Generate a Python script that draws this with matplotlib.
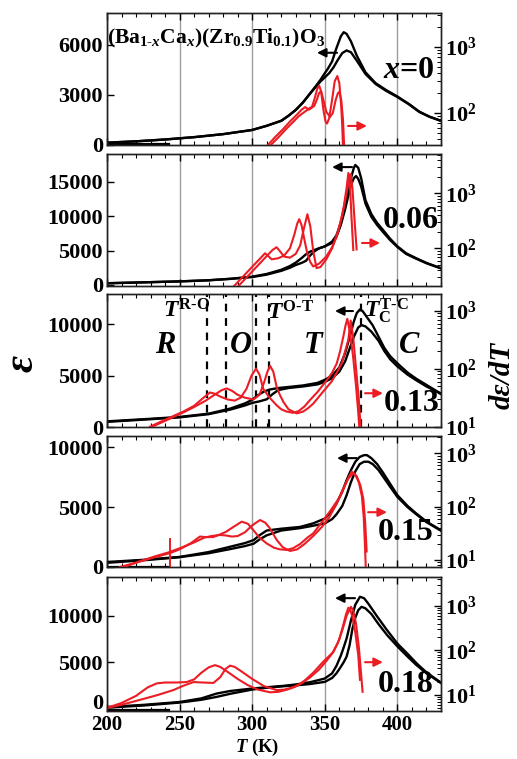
import matplotlib
matplotlib.use('Agg')
import matplotlib.pyplot as plt
import numpy as np
from matplotlib.ticker import MultipleLocator, LogLocator, FuncFormatter, NullFormatter, FixedLocator

plt.rcParams['font.family'] = ['Liberation Serif', 'DejaVu Serif']
plt.rcParams['font.weight'] = 'bold'
plt.rcParams['mathtext.fontset'] = 'custom'
plt.rcParams['mathtext.rm'] = 'Liberation Serif:bold'
plt.rcParams['mathtext.it'] = 'Liberation Serif:bold:italic'
plt.rcParams['mathtext.bf'] = 'Liberation Serif:bold'

# ---------------- data (T in K, eps, log10(d eps/dT)) ----------------
# panel 1 : x = 0
p1_T_b1 = [200, 220, 240, 260, 280, 300, 310, 320, 325, 330, 335, 340, 344, 347, 350, 352, 355, 358, 361, 363, 365, 368, 372, 378, 385, 392, 400, 408, 415, 422, 430]
p1_e_b1 = [140, 220, 330, 470, 650, 900, 1150, 1450, 1750, 2100, 2550, 3100, 3550, 3900, 4300, 4550, 5000, 5800, 6500, 6750, 6650, 6200, 5350, 4350, 3700, 3300, 2900, 2450, 2000, 1700, 1450]
p1_T_b2 = [200, 220, 240, 260, 280, 300, 310, 320, 325, 330, 335, 340, 344, 347, 350, 353, 356, 359, 362, 365, 368, 372, 378, 385, 392, 400, 408, 415, 422, 430]
p1_e_b2 = [140, 220, 330, 470, 650, 900, 1150, 1450, 1750, 2100, 2550, 3100, 3500, 3800, 4050, 4300, 4650, 5100, 5500, 5660, 5550, 5050, 4250, 3650, 3250, 2870, 2430, 1980, 1690, 1440]
p1_T_r1 = [308, 311, 316, 321, 326, 331, 334, 336.5, 339, 341, 343, 344.8, 346.2, 347.5, 349, 350.5, 351.5, 353, 355, 356.8, 358.6, 360, 361.3, 362, 362.4, 362.6]
p1_g_r1 = [1.45, 1.52, 1.64, 1.75, 1.87, 1.98, 2.05, 2.09, 2.05, 2.08, 2.22, 2.37, 2.41, 2.32, 2.05, 1.87, 1.84, 1.92, 2.2, 2.48, 2.56, 2.45, 2.1, 1.8, 1.55, 1.4]
p1_T_r2 = [310, 313, 318, 323, 328, 332, 335, 337.5, 340, 342.5, 344.5, 346, 347.4, 349, 351, 353.6, 355.5, 357.5, 359, 360, 361.3, 362.5, 363.2, 363.4]
p1_g_r2 = [1.45, 1.52, 1.63, 1.75, 1.86, 1.95, 2.0, 2.04, 2.08, 2.1, 2.2, 2.3, 2.33, 2.2, 2.02, 1.94, 2.0, 2.2, 2.3, 2.32, 2.2, 1.9, 1.55, 1.4]
p1_T_base = [200, 243]
p1_e_base = [60, 60]

# panel 2 : x = 0.06
p2_T_b1 = [200, 225, 250, 270, 285, 300, 310, 320, 326, 330, 334, 337, 340, 345, 350, 355, 358, 361, 364, 366, 368, 370, 371, 373, 375, 378, 382, 386, 390, 395, 400, 406, 413, 420, 430]
p2_e_b1 = [250, 380, 520, 680, 900, 1200, 1600, 2200, 2750, 3250, 3900, 4450, 4850, 5250, 5600, 6300, 7200, 9000, 11500, 13500, 15500, 17000, 17400, 17000, 15500, 12300, 10300, 9000, 8000, 6700, 5600, 4600, 3870, 3200, 2420]
p2_T_b2 = [200, 225, 250, 270, 285, 300, 310, 320, 326, 330, 334, 337, 340, 343, 346, 350, 355, 358, 361, 364, 366, 368, 370, 371.5, 373, 375, 378, 382, 386, 390, 395, 400, 406, 413, 420, 430]
p2_e_b2 = [250, 380, 520, 680, 880, 1150, 1500, 2050, 2500, 2900, 3200, 3500, 4300, 4900, 5300, 5600, 6100, 7000, 8700, 11000, 12800, 14500, 15500, 15800, 15400, 14300, 11800, 9900, 8700, 7700, 6500, 5500, 4500, 3800, 3150, 2400]
p2_T_r1 = [285, 287, 292, 297, 302, 306, 308.8, 311, 313.4, 318, 322, 326, 329, 331, 332.4, 334, 336, 338, 340, 342, 346, 351, 355, 358, 361, 363, 365, 366.2, 367.2, 368.3, 369.6]
p2_g_r1 = [1.25, 1.3, 1.44, 1.58, 1.72, 1.83, 1.91, 1.86, 1.8, 1.82, 1.87, 2.0, 2.25, 2.45, 2.53, 2.42, 2.15, 1.9, 1.75, 1.67, 1.72, 1.85, 2.02, 2.2, 2.5, 2.75, 3.1, 3.37, 3.2, 2.6, 1.97]
p2_T_r2 = [288, 290, 295, 300, 305, 310, 314, 316.8, 319, 322, 326, 330, 333, 335.5, 338, 340, 342, 344.3, 347, 351, 355, 359, 362, 365, 367, 367.8, 369, 370.5, 371.9]
p2_g_r2 = [1.25, 1.3, 1.44, 1.58, 1.72, 1.86, 1.97, 2.02, 1.95, 1.85, 1.83, 1.9, 2.05, 2.35, 2.62, 2.4, 1.95, 1.64, 1.66, 1.8, 2.0, 2.3, 2.6, 3.0, 3.3, 3.35, 3.1, 2.5, 1.98]

# panel 3 : x = 0.13
p3_T_b1 = [200, 230, 250, 270, 285, 295, 300, 304, 308, 312, 318, 325, 335, 345, 350, 355, 360, 364, 367, 370, 372, 374.2, 376, 379, 383, 387, 391, 395, 400, 407, 413, 420, 427, 430]
p3_e_b1 = [550, 800, 980, 1300, 1800, 2300, 2650, 3100, 3450, 3650, 3800, 3900, 4050, 4300, 4600, 5000, 5800, 7200, 8700, 10300, 11100, 11460, 11300, 10700, 9900, 8800, 7700, 6900, 6200, 5300, 4700, 4100, 3500, 3260]
p3_T_b2 = [200, 230, 250, 270, 285, 295, 300, 305, 310, 314, 318, 325, 335, 345, 350, 355, 360, 364, 367, 370, 373, 375.3, 378, 382, 387, 391, 395, 400, 407, 413, 420, 427, 430]
p3_e_b2 = [500, 760, 940, 1250, 1700, 2100, 2350, 2500, 2700, 3200, 3600, 3800, 3950, 4150, 4400, 4750, 5400, 6400, 7600, 8800, 9700, 9930, 9800, 9300, 8400, 7400, 6600, 5900, 5100, 4550, 3950, 3450, 3200]
p3_T_r1 = [229.6, 240, 252.5, 260, 266, 270.9, 274, 278, 283, 288, 292, 296, 299.5, 302.6, 305, 307.6, 312, 316.8, 320, 323.8, 328.2, 332, 336, 339.8, 345, 351.3, 355, 358.2, 360.5, 362.7, 364.3, 365.5, 367.5, 369.5, 371.5, 373, 373.8]
p3_g_r1 = [1.0, 1.12, 1.26, 1.36, 1.49, 1.59, 1.57, 1.52, 1.47, 1.45, 1.5, 1.65, 1.88, 2.0, 1.9, 1.65, 1.5, 1.37, 1.3, 1.26, 1.24, 1.27, 1.35, 1.46, 1.6, 1.8, 1.93, 2.09, 2.3, 2.55, 2.75, 2.86, 2.6, 2.2, 1.7, 1.25, 0.98]
p3_T_r2 = [231, 240, 252, 260, 268, 274, 279, 282.4, 286, 290, 295, 300.8, 305, 308, 310.5, 312.3, 314.5, 316.8, 319, 321.4, 325, 330.6, 335, 338.5, 342.1, 348, 354.7, 358, 361.6, 364, 366.2, 367.8, 369.5, 371.5, 373.3, 374.7]
p3_g_r2 = [1.0, 1.1, 1.24, 1.34, 1.45, 1.55, 1.63, 1.66, 1.62, 1.55, 1.5, 1.47, 1.55, 1.75, 1.95, 2.05, 1.95, 1.69, 1.55, 1.43, 1.3, 1.23, 1.26, 1.32, 1.4, 1.58, 1.78, 1.92, 2.09, 2.3, 2.5, 2.83, 2.55, 2.0, 1.5, 0.98]
p3_T_phase = [268.6, 281.9, 302.5, 311.8, 374.7]

# panel 4 : x = 0.15
p4_T_b1 = [200, 225, 250, 270, 285, 295, 301, 305, 310, 320, 333, 342, 350, 355, 358, 362, 365, 368, 371, 374, 377, 379, 382, 386, 390, 395, 400, 407, 413, 420, 430]
p4_e_b1 = [420, 600, 840, 1250, 1700, 2000, 2250, 2650, 3050, 3200, 3350, 3650, 4050, 4700, 5300, 6300, 7260, 8100, 8800, 9200, 9350, 9350, 9100, 8600, 7900, 6950, 6000, 5100, 4470, 3800, 3070]
p4_T_b2 = [200, 225, 250, 270, 285, 295, 301, 305, 310, 320, 333, 342, 350, 355, 358, 362, 365, 368, 371, 374, 377, 380, 383, 387, 391, 395, 400, 407, 413, 420, 430]
p4_e_b2 = [350, 560, 820, 1150, 1500, 1750, 1950, 2300, 2650, 3050, 3250, 3450, 3650, 4000, 4400, 5100, 6000, 7100, 8000, 8600, 8800, 8800, 8600, 8100, 7400, 6700, 5850, 5000, 4400, 3750, 3030]
p4_T_r1 = [209, 220, 230, 243.4, 250, 258, 264, 268, 273, 277, 282, 287, 292.8, 297, 300.8, 305, 310, 315, 319, 323.8, 328, 333, 338, 342, 350, 355, 360.5, 366, 368.5, 371, 373.5, 375.5, 376.8, 377.6, 378.2]
p4_g_r1 = [0.87, 0.95, 1.03, 1.13, 1.2, 1.32, 1.44, 1.43, 1.43, 1.47, 1.53, 1.62, 1.72, 1.68, 1.56, 1.42, 1.31, 1.23, 1.2, 1.19, 1.22, 1.3, 1.42, 1.5, 1.78, 1.97, 2.19, 2.53, 2.66, 2.6, 2.45, 2.2, 1.8, 1.3, 0.85]
p4_T_r2 = [212, 222, 232, 242, 252, 260, 267, 272, 277.8, 282, 286, 290, 295, 300, 305.4, 309, 312, 316.8, 321, 326, 331, 336, 342, 348, 353, 358, 362, 366, 369.6, 372, 374.5, 376.5, 377.8, 378.8]
p4_g_r2 = [0.87, 0.97, 1.06, 1.14, 1.24, 1.33, 1.42, 1.45, 1.47, 1.46, 1.44, 1.45, 1.52, 1.65, 1.75, 1.7, 1.6, 1.38, 1.24, 1.17, 1.2, 1.3, 1.45, 1.62, 1.8, 2.05, 2.3, 2.52, 2.63, 2.57, 2.4, 2.15, 1.7, 1.16]
p4_T_base = [200, 243.4]
p4_e_base = [0, 0]
p4_T_spike = [243.4, 243.4]
p4_g_spike = [0.87, 1.39]

# panel 5 : x = 0.18
p5_T_b1 = [200, 225, 250, 265, 275.5, 285, 300, 310, 321, 330, 340, 350, 355, 358, 361, 363, 365, 368, 371, 374.2, 377, 380, 385.7, 392.6, 400, 407, 413.3, 420, 430]
p5_e_b1 = [170, 400, 710, 1100, 1620, 1900, 2160, 2300, 2440, 2600, 2850, 3240, 3800, 4600, 5700, 6600, 7560, 9500, 11200, 12050, 11900, 11300, 10000, 8500, 7000, 5900, 4860, 3900, 2800]
p5_T_b2 = [200, 225, 250, 265, 275.5, 285, 300, 310, 321, 330, 340, 350, 355, 358, 361, 363, 365, 367, 369, 371, 373, 375.3, 378, 382, 387, 393, 400, 407, 413, 420, 430]
p5_e_b2 = [100, 330, 650, 950, 1260, 1600, 2050, 2250, 2400, 2500, 2650, 2880, 3300, 3800, 4500, 5000, 5600, 6800, 8600, 9800, 10600, 10970, 10800, 10200, 9100, 7900, 6700, 5600, 4700, 3800, 2750]
p5_T_r1 = [200, 210, 220, 228, 234.2, 240, 248, 254.8, 260, 265, 270, 274.4, 278, 283, 290, 297, 304, 312.3, 318, 324, 330, 336, 342, 349, 356, 360, 362.7, 364.5, 366.2, 367.5, 369, 371, 373, 374.2]
p5_g_r1 = [0.71, 0.82, 0.98, 1.17, 1.26, 1.28, 1.28, 1.29, 1.35, 1.5, 1.62, 1.67, 1.63, 1.52, 1.36, 1.22, 1.12, 1.06, 1.07, 1.12, 1.19, 1.32, 1.5, 1.75, 1.97, 2.25, 2.57, 2.8, 2.96, 2.92, 2.75, 2.4, 1.9, 1.34]
p5_T_r2 = [200, 210, 222.7, 235, 245.7, 252, 259.5, 266, 273.3, 278, 281.5, 284.7, 288, 293, 300, 308, 316.8, 322, 328, 334, 340, 346, 351, 355, 359, 362, 365, 368, 369.5, 371.5, 373.5, 376]
p5_g_r2 = [0.71, 0.78, 0.89, 1.0, 1.11, 1.2, 1.29, 1.28, 1.27, 1.4, 1.58, 1.66, 1.63, 1.52, 1.36, 1.2, 1.11, 1.12, 1.17, 1.26, 1.4, 1.57, 1.76, 1.93, 2.17, 2.45, 2.78, 2.98, 2.9, 2.6, 2.05, 1.07]
p5_T_base = [200, 243]
p5_e_base = [-100, -100]

labels = [r'$x$=0', '0.06', '0.13', '0.15', '0.18']
left_ticks = [[0, 3000, 6000], [0, 5000, 10000, 15000], [0, 5000, 10000], [0, 5000, 10000], [0, 5000, 10000]]
xticks = [200, 250, 300, 350, 400]

# ---------------- layout ----------------
W, H = 517, 759
fig = plt.figure(figsize=(W / 100, H / 100), dpi=100)

def P(x, y):
    return x / W, 1 - y / H

panel_px = [(13, 145), (154, 286), (294, 427), (436, 567), (577, 711)]
eps_lim = [(0, 7900), (-150, 19000), (0, 12960), (0, 10950), (-260, 14180)]
log_lim = [(1.515, 3.515), (1.315, 3.715), (0.995, 3.288), (0.869, 3.326), (0.64, 3.65)]
label_pos = [(409, 71), (411, 220), (412, 404), (406, 533), (406, 685)]
black_arrows = [((358.4, 5520), (344.6, 5520)), ((368.7, 17100), (355.0, 17100)),
                ((369.4, 11300), (357.0, 11300)), ((372.0, 9100), (358.4, 9100)),
                ((370.8, 11900), (357.0, 11900))]
red_arrows = [((366.0, 1140), (379.0, 1140)), ((375.6, 6090), (388.0, 6090)),
              ((377.7, 3290), (390.0, 3290)), ((379.8, 4580), (392.8, 4580)),
              ((377.7, 5000), (390.0, 5000))]

blacks = [[(p1_T_b1, p1_e_b1), (p1_T_b2, p1_e_b2)],
          [(p2_T_b1, p2_e_b1), (p2_T_b2, p2_e_b2)],
          [(p3_T_b1, p3_e_b1), (p3_T_b2, p3_e_b2)],
          [(p4_T_b1, p4_e_b1), (p4_T_b2, p4_e_b2)],
          [(p5_T_b1, p5_e_b1), (p5_T_b2, p5_e_b2)]]
reds = [[(p1_T_r1, p1_g_r1), (p1_T_r2, p1_g_r2)],
        [(p2_T_r1, p2_g_r1), (p2_T_r2, p2_g_r2)],
        [(p3_T_r1, p3_g_r1), (p3_T_r2, p3_g_r2)],
        [(p4_T_r1, p4_g_r1), (p4_T_r2, p4_g_r2)],
        [(p5_T_r1, p5_g_r1), (p5_T_r2, p5_g_r2)]]
bases = {0: (p1_T_base, p1_e_base), 3: (p4_T_base, p4_e_base), 4: (p5_T_base, p5_e_base)}

RED = '#ec1c24'
TICK_FS = 16
axes = []
for i in range(5):
    top, bot = panel_px[i]
    ax = fig.add_axes([107 / W, 1 - bot / H, (441 - 107) / W, (bot - top) / H])
    ax2 = ax.twinx()
    axes.append((ax, ax2))
    ax.set_xlim(200, 430)
    ax.set_ylim(*eps_lim[i])
    ax2.set_yscale('log')
    ax2.set_ylim(10 ** log_lim[i][0], 10 ** log_lim[i][1])

    ax.xaxis.set_major_locator(FixedLocator(xticks))
    ax.xaxis.set_minor_locator(MultipleLocator(10))
    ax.xaxis.grid(True, which='major', color='#9c9c9c', lw=1.0)
    ax.set_axisbelow(True)
    ax.tick_params(axis='x', which='major', direction='in', top=True, bottom=True, length=5, width=1,
                   labelsize=15, pad=3, labelbottom=(i == 4))
    ax.tick_params(axis='x', which='minor', direction='in', top=True, bottom=True, length=3, width=0.8)
    ax.set_yticks(left_ticks[i])
    ax.tick_params(axis='y', which='major', direction='in', left=True, right=False, length=5, width=1,
                   labelsize=TICK_FS, pad=3)
    if i == 4:
        # keep the bottom "0" clear of the "200" x tick label
        ax.yaxis.get_major_ticks()[0].label1.set_verticalalignment('baseline')

    ax2.yaxis.set_major_locator(LogLocator(base=10, numticks=10))
    ax2.yaxis.set_minor_locator(LogLocator(base=10, subs=np.arange(2, 10), numticks=20))
    ax2.yaxis.set_major_formatter(FuncFormatter(lambda v, p: r'$\mathbf{10^{%d}}$' % int(round(np.log10(v)))))
    ax2.yaxis.set_minor_formatter(NullFormatter())
    ax2.tick_params(axis='y', which='major', direction='in', length=5, width=1, labelsize=TICK_FS, pad=3)
    ax2.tick_params(axis='y', which='minor', direction='in', length=3, width=0.7)

    for sp in list(ax.spines.values()) + list(ax2.spines.values()):
        sp.set_linewidth(1.0)
        sp.set_color('#222222')

    for T, e in blacks[i]:
        ax.plot(T, e, color='black', lw=1.7, solid_joinstyle='round')
    if i in bases:
        ax.plot(bases[i][0], bases[i][1], color='black', lw=1.6)
    for T, g in reds[i]:
        ax2.plot(T, 10 ** np.array(g), color=RED, lw=1.5, solid_joinstyle='round')
    if i == 3:
        ax2.plot(p4_T_spike, 10 ** np.array(p4_g_spike), color=RED, lw=1.4)

    (bx0, by0), (bx1, by1) = black_arrows[i]
    ax.annotate('', xy=(bx1, by1), xytext=(bx0, by0),
                arrowprops=dict(arrowstyle='-|>', color='black', lw=1.5, mutation_scale=13, shrinkA=0, shrinkB=0))
    (rx0, ry0), (rx1, ry1) = red_arrows[i]
    ax.annotate('', xy=(rx1, ry1), xytext=(rx0, ry0),
                arrowprops=dict(arrowstyle='-|>', color=RED, lw=1.5, mutation_scale=13, shrinkA=0, shrinkB=0))

    fig.text(*P(*label_pos[i]), labels[i], fontsize=23, fontweight='bold', ha='center', va='center')

# phase boundaries in panel 3
ax3 = axes[2][0]
for t in p3_T_phase:
    ax3.axvline(t, color='black', lw=1.6, ls=(0, (3.5, 3)))

fig.text(*P(187, 311), r'$T^{\mathrm{R\text{-}O}}$', fontsize=17, ha='center', va='center')
fig.text(*P(291, 313), r'$T^{\mathrm{O\text{-}T}}$', fontsize=17, ha='center', va='center')
fig.text(*P(386, 311), r'$T_{\mathrm{C}}^{\mathrm{T\text{-}C}}$', fontsize=17, ha='center', va='center')
for lab, (x, y) in zip(['R', 'O', 'T', 'C'], [(165, 345), (241, 345), (313, 345), (409, 345)]):
    fig.text(*P(x, y), lab, fontsize=22, fontstyle='italic', fontweight='bold', ha='center', va='center')

# title
fig.text(*P(107, 38), r'(Ba$_{\mathrm{1\text{-}}x}$Ca$_{x}$)(Zr$_{0.9}$Ti$_{0.1}$)O$_{3}$', fontsize=15.5,
         ha='left', va='center')

# axis labels
fig.text(*P(23, 363), 'ε', fontsize=30, fontstyle='italic', fontweight='bold', rotation=90, ha='center', va='center')
fig.text(*P(502, 375), 'dε/dT', fontsize=21, fontstyle='italic', fontweight='bold', rotation=90, ha='center', va='center')
fig.text(*P(257, 758), r'$T$ (K)', fontsize=13.5, ha='center', va='bottom')

fig.savefig('out.png', dpi=100)
